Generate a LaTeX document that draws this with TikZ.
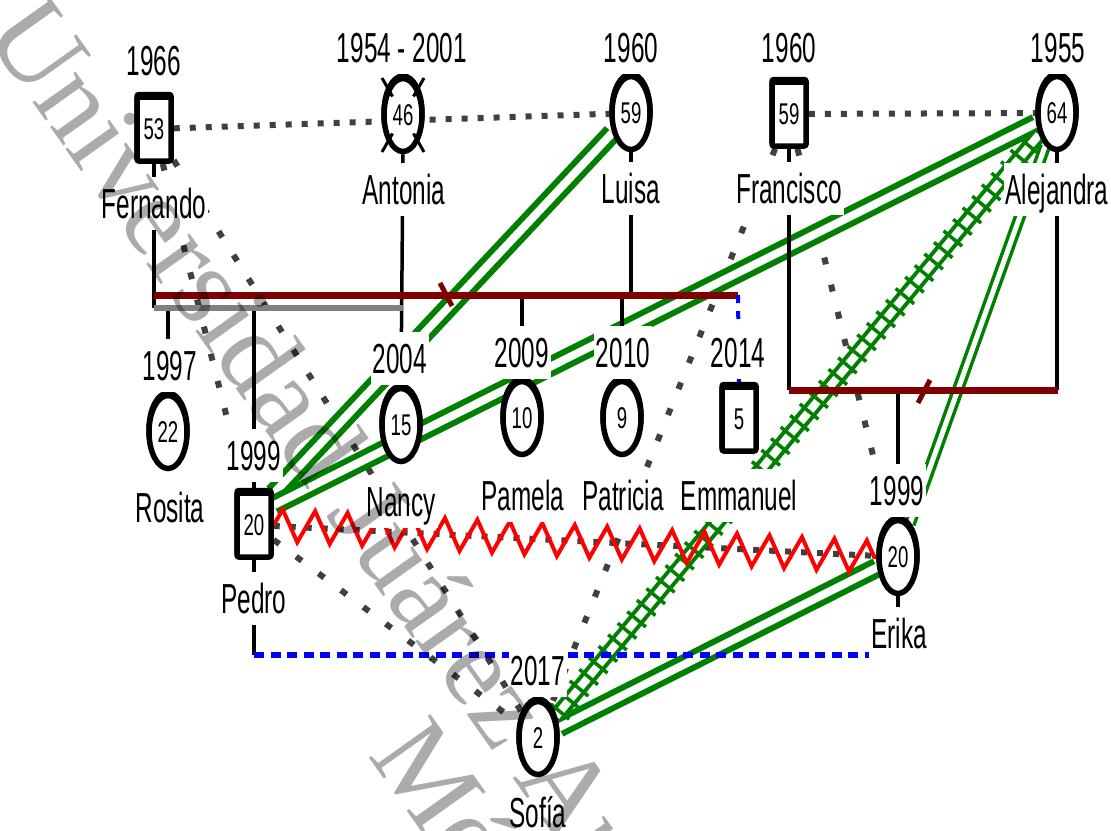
\documentclass[tikz,border=0pt]{standalone}
\usepackage{fontspec}
\setmainfont{Liberation Sans}[FakeStretch=0.58]
\newfontfamily\numfont{Liberation Sans}[FakeStretch=0.62]
\newfontfamily\wmfont{Liberation Serif}
\usetikzlibrary{shapes.geometric,decorations.pathmorphing,decorations.markings,shadows,calc}
\pgfdeclarelayer{back}
\pgfdeclarelayer{bg}
\pgfdeclarelayer{mid}
\pgfdeclarelayer{fg}
\pgfsetlayers{back,bg,mid,main,fg}
\definecolor{gn}{HTML}{008000}
\definecolor{br}{HTML}{800000}
\definecolor{dg}{HTML}{404040}
\definecolor{bl}{HTML}{0000FF}
\definecolor{rd}{HTML}{FF0000}
\definecolor{gy}{HTML}{808080}
\tikzset{
  person/.style={draw=black, fill=white, line width=5.5pt, inner sep=0pt,
    font=\numfont\fontsize{30}{30}\selectfont,
    general shadow={draw=black, fill=white, shadow yshift=2.5pt}},
  fem/.style={person, ellipse, minimum width=38pt, minimum height=73pt},
  male/.style={person, rectangle, rounded corners=2pt, minimum width=34pt, minimum height=64pt},
  lbl/.style={fill=white, inner xsep=2pt, inner ysep=10pt, text height=31pt, text depth=2pt,
    font=\fontsize{42}{42}\selectfont, anchor=base},
  kin/.style={draw=black, line width=3.5pt},
  brline/.style={draw=br, line width=7pt},
  gyline/.style={draw=gy, line width=6pt},
  slashmk/.style={draw=br, line width=5pt},
  bluedash/.style={draw=bl, line width=6.5pt, dash pattern=on 10pt off 6.5pt},
  bluedot/.style={draw=bl, line width=4pt, dash pattern=on 8pt off 8pt},
  dotH/.style={draw=dg, line width=6pt, dash pattern=on 6pt off 10pt},
  dotD/.style={draw=dg, line width=6pt, dash pattern=on 7pt off 21pt},
  close/.style={draw=gn, line width=6pt, double=white, double distance=8pt},
  closethin/.style={draw=gn, line width=3.5pt, double=white, double distance=5pt},
  fused/.style={draw=gn, line width=4pt, double=white, double distance=8pt,
    postaction={decorate, decoration={markings,
      mark=between positions 6pt and -6pt step 15pt with {\draw[gn, line width=3.5pt] (0pt,-12pt) -- (0pt,12pt);}}}},
  hostile/.style={draw=rd, line width=4pt, decorate,
    decoration={zigzag, segment length=32.5pt, amplitude=16pt}},
  xmk/.style={draw=black, line width=3pt},
  wm/.style={text=black, text opacity=0.33, font=\wmfont\fontsize{115}{115}\selectfont,
    inner sep=0pt, anchor=base west, rotate=-54.6}
}
\begin{document}
\begin{tikzpicture}[x=1pt,y=-1pt]
\useasboundingbox (0,0) rectangle (1111,830);
\begin{pgfonlayer}{back}
  \fill[white] (0,0) rectangle (1111,830);
\end{pgfonlayer}

% persons
\node[male] (fer) at (154,129) {53};
\node[fem]  (ant) at (403,115) {46};
\node[fem]  (lui) at (631,113) {59};
\node[male] (fra) at (789,114) {59};
\node[fem]  (ale) at (1057,113) {64};
\node[fem]  (ros) at (168,432) {22};
\node[male] (ped) at (254,525) {20};
\node[fem]  (nan) at (401,425) {15};
\node[fem]  (pam) at (522,418) {10};
\node[fem]  (pat) at (622,418) {9};
\node[male] (emm) at (739,419) {5};
\node[fem]  (eri) at (898,557) {20};
\node[fem]  (sof) at (538,738) {2};

% deceased mark
\draw[xmk] ($(ant)+(-10.5,-18.5)$) -- ($(ant)+(-21,-37)$);
\draw[xmk] ($(ant)+(10.5,-18.5)$) -- ($(ant)+(21,-37)$);
\draw[xmk] ($(ant)+(-10.5,18.5)$) -- ($(ant)+(-21,37)$);
\draw[xmk] ($(ant)+(10.5,18.5)$) -- ($(ant)+(21,37)$);

% junctions
\coordinate (j0L) at (154,308); \coordinate (j0R) at (403,308);
\coordinate (j1L) at (154,295); \coordinate (j1R) at (738,295);
\coordinate (j2L) at (789,390); \coordinate (j2R) at (1058,390);
\coordinate (j3L) at (254,655); \coordinate (j3R) at (898,655);

% emotional relationships
\begin{pgfonlayer}{bg}
  \draw[dotH] (fer) -- (lui);
  \draw[dotH] (fra) -- (ale);
  \draw[dotH] (ped) -- (eri);
  \draw[dotD] (fer) -- (ped);
  \draw[dotD] (fer) -- (sof);
  \draw[dotD] (ped) -- (sof);
  \draw[dotD] (fra) -- (sof);
  \draw[dotD] (fra) -- (eri);
  \draw[close] (lui) -- (ped.58);
  \draw[close] (ale) -- (ped.45);
  \draw[close] (sof) -- (eri);
  \draw[closethin] (eri) -- (ale);
  \draw[fused] (sof) -- (ale);
\end{pgfonlayer}

% family lines
\begin{pgfonlayer}{mid}
  \draw[kin] (fer.south) -- (j0L);
  \draw[kin] (ant.south) -- (nan.north);
  \draw[kin] (lui.south) -- (lui.south |- j1L);
  \draw[kin] (pam.north) -- (pam.north |- j1L);
  \draw[kin] (pat.north) -- (pat.north |- j1L);
  \draw[kin] (ros.north) -- (ros.north |- j0L);
  \draw[kin] (ped.north) -- (ped.north |- j0L);
  \draw[kin] (ped.south) -- (j3L);
  \draw[kin] (fra.south) -- (j2L);
  \draw[kin] (ale.south) -- (ale.south |- j2R);
  \draw[kin] (eri.north) -- (eri.north |- j2L);
  \draw[kin] (eri.south) -- (j3R);
  \draw[kin] (sof.north) -- (sof.north |- j3L);
  \draw[gyline] (j0L) -- (j0R);
  \draw[brline] (j1L) -- (j1R);
  \draw[brline] (j2L) -- (j2R);
  \draw[slashmk] (440,283) -- (452,306);
  \draw[slashmk] (930,380) -- (918,403);
  \draw[bluedot] (j1R) -- (emm.north);
  \draw[bluedash] (j3L) -- (j3R);
  \draw[hostile] (ped.east) -- (eri.west);
\end{pgfonlayer}

% labels
\node[lbl] (ferY) at (154,75) {1966};
\node[lbl] (antY) at (402,62) {1954 - 2001};
\node[lbl] (luiY) at (631,62) {1960};
\node[lbl] (fraY) at (789,62) {1960};
\node[lbl] (aleY) at (1058,62) {1955};
\node[lbl] (ferN) at (154,218) {Fernando};
\node[lbl] (antN) at (404,204) {Antonia};
\node[lbl] (luiN) at (631,203) {Luisa};
\node[lbl] (fraN) at (789,203) {Francisco};
\node[lbl] (aleN) at (1057,204) {Alejandra};
\node[lbl] (rosY) at (170,380) {1997};
\node[lbl] (pedY) at (254,470) {1999};
\node[lbl] (nanY) at (400,373) {2004};
\node[lbl] (pamY) at (522,367) {2009};
\node[lbl] (patY) at (623,367) {2010};
\node[lbl] (emmY) at (738,367) {2014};
\node[lbl] (eriY) at (897,505) {1999};
\node[lbl] (sofY) at (538,685) {2017};
\node[lbl] (rosN) at (170,522) {Rosita};
\node[lbl] (nanN) at (401,516) {Nancy};
\node[lbl] (pamN) at (523,510) {Pamela};
\node[lbl] (patN) at (623,510) {Patricia};
\node[lbl] (emmN) at (739,510) {Emmanuel};
\node[lbl] (pedN) at (254,613) {Pedro};
\node[lbl] (eriN) at (899,648) {Erika};
\node[lbl] (sofN) at (538,827) {Sofía};

% watermark
\begin{pgfonlayer}{fg}
  \node[wm] (wm1) at (-17,33) {Universidad Juárez Autónoma de Tabasco.};
  \node[wm] (wm2) at (367,755) {México.};
\end{pgfonlayer}
\end{tikzpicture}
\end{document}
